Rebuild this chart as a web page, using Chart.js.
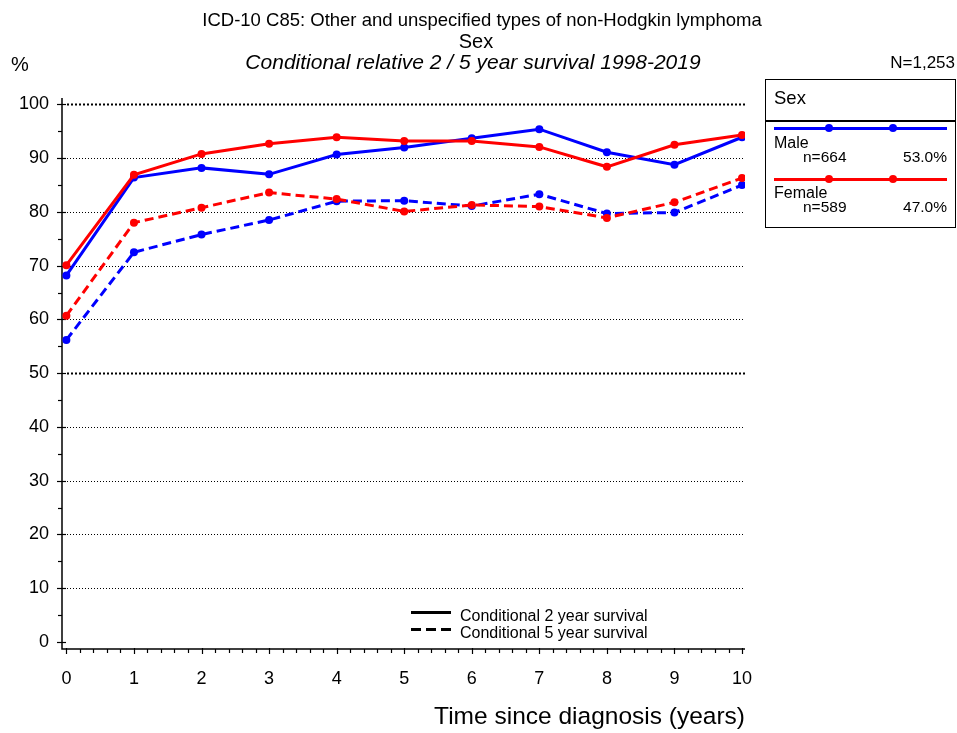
<!DOCTYPE html>
<html>
<head>
<meta charset="utf-8">
<script src="https://cdn.jsdelivr.net/npm/chart.js@4"></script>
<style>
  html, body { margin:0; padding:0; background:#fff; overflow:hidden; }
  #wrap { position:relative; width:957px; height:733px; font-family:'Liberation Sans', Arial, Helvetica, sans-serif; color:#000; }
  #c { position:absolute; left:0; top:0; }
  .t { position:absolute; white-space:nowrap; line-height:1; }
  .ctr { transform:translateX(-50%); }
  .rgt { transform:translateX(-100%); }
  #lbox { position:absolute; left:765px; top:79px; width:189px; height:147px; border:1.5px solid #000; box-sizing:content-box; }
  .hl { position:absolute; height:3px; }
  .dot { position:absolute; width:8px; height:8px; border-radius:50%; }
</style>
</head>
<body>
<div id="wrap">
  <canvas id="c" width="957" height="733"></canvas>

  <div class="t ctr" style="left:482px; top:10.5px; font-size:18.5px;">ICD-10 C85: Other and unspecified types of non-Hodgkin lymphoma</div>
  <div class="t ctr" style="left:476px; top:30.5px; font-size:20px;">Sex</div>
  <div class="t ctr" style="left:473px; top:50.5px; font-size:21px; font-style:italic;">Conditional relative 2 / 5 year survival 1998-2019</div>
  <div class="t" style="left:11px; top:54px; font-size:20px;">%</div>
  <div class="t rgt" style="left:955px; top:54px; font-size:17px;">N=1,253</div>

  <!-- group legend box -->
  <div id="lbox"></div>
  <div style="position:absolute; left:765px; top:120px; width:191px; height:1.5px; background:#000;"></div>
  <div class="t" style="left:774px; top:89px; font-size:18.5px;">Sex</div>

  <div class="hl" style="left:774px; top:126.5px; width:173px; background:#0000ff;"></div>
  <div class="dot" style="left:825px; top:124px; background:#0000ff;"></div>
  <div class="dot" style="left:889px; top:124px; background:#0000ff;"></div>
  <div class="t" style="left:774px; top:135px; font-size:16px;">Male</div>
  <div class="t" style="left:803px; top:149px; font-size:15.5px;">n=664</div>
  <div class="t rgt" style="left:947px; top:149px; font-size:15.5px;">53.0%</div>

  <div class="hl" style="left:774px; top:177.5px; width:173px; background:#ff0000;"></div>
  <div class="dot" style="left:825px; top:175px; background:#ff0000;"></div>
  <div class="dot" style="left:889px; top:175px; background:#ff0000;"></div>
  <div class="t" style="left:774px; top:185px; font-size:16px;">Female</div>
  <div class="t" style="left:803px; top:199px; font-size:15.5px;">n=589</div>
  <div class="t rgt" style="left:947px; top:199px; font-size:15.5px;">47.0%</div>

  <!-- line style legend -->
  <div class="hl" style="left:411px; top:610.5px; width:40px; background:#000;"></div>
  <div class="hl" style="left:411px; top:627.5px; width:40px; background:repeating-linear-gradient(to right,#000 0,#000 10px,transparent 10px,transparent 15px);"></div>
  <div class="t" style="left:460px; top:608px; font-size:16px;">Conditional 2 year survival</div>
  <div class="t" style="left:460px; top:625px; font-size:16px;">Conditional 5 year survival</div>
</div>

<script>
// ---- data ----
const years = [0, 1, 2, 3, 4, 5, 6, 7, 8, 9, 10];
const male2yr   = [68.2, 86.4, 88.2, 87.0, 90.7, 92.0, 93.7, 95.4, 91.1, 88.8, 93.9];
const female2yr = [70.1, 86.9, 90.8, 92.7, 93.9, 93.2, 93.2, 92.1, 88.4, 92.5, 94.3];
const male5yr   = [56.2, 72.5, 75.8, 78.5, 82.0, 82.1, 81.1, 83.3, 79.7, 79.9, 85.0];
const female5yr = [60.7, 78.0, 80.8, 83.6, 82.4, 80.1, 81.3, 81.0, 78.9, 81.8, 86.3];
const xTickValues = [0, 1, 2, 3, 4, 5, 6, 7, 8, 9, 10];
const yTickValues = [0, 10, 20, 30, 40, 50, 60, 70, 80, 90, 100];

const BLUE = '#0000ff', RED = '#ff0000';

function pts(vals) { return years.map((x, i) => ({ x: x, y: vals[i] })); }

function ds(label, vals, color, dashed) {
  return {
    label: label,
    data: pts(vals),
    borderColor: color,
    backgroundColor: color,
    borderWidth: 3,
    borderDash: dashed ? [9, 5] : [],
    pointRadius: 4,
    pointBorderWidth: 0,
    pointBackgroundColor: color,
    pointHoverRadius: 4,
    tension: 0,
    fill: false
  };
}

const axesPlugin = {
  id: 'sasAxes',
  beforeDatasetsDraw(chart) {
    const { ctx, chartArea: a, scales: { x, y } } = chart;
    ctx.save();
    ctx.strokeStyle = '#000';
    // dotted grid lines
    yTickValues.forEach(v => {
      if (v === 0) return;
      const py = Math.round(y.getPixelForValue(v)) + 0.5;
      const bold = (v === 100 || v === 50);
      ctx.lineWidth = bold ? 2 : 1;
      ctx.setLineDash(bold ? [2, 2] : [1, 2]);
      ctx.beginPath();
      ctx.moveTo(a.left + 5, py);
      ctx.lineTo(a.right, py);
      ctx.stroke();
    });
    ctx.setLineDash([]);
    // axis lines
    ctx.lineWidth = 1.5;
    ctx.beginPath();
    ctx.moveTo(a.left, a.top);
    ctx.lineTo(a.left, a.bottom);
    ctx.lineTo(a.right, a.bottom);
    ctx.stroke();
    // y ticks
    ctx.lineWidth = 1.2;
    for (let v = 0; v <= 100; v += 5) {
      const py = Math.round(y.getPixelForValue(v)) + 0.5;
      const major = v % 10 === 0;
      ctx.beginPath();
      ctx.moveTo(a.left - (major ? 5 : 4), py);
      ctx.lineTo(a.left + (major ? 4 : 0), py);
      ctx.stroke();
    }
    // x ticks
    for (let k = 0; k <= 50; k++) {
      const v = k / 5;
      const px = Math.round(x.getPixelForValue(v)) + 0.5;
      const major = k % 5 === 0;
      ctx.beginPath();
      ctx.moveTo(px, a.bottom - (major ? 1 : 0));
      ctx.lineTo(px, a.bottom + (major ? 5 : 4));
      ctx.stroke();
    }
    ctx.restore();
  }
};

Chart.defaults.font.family = "'Liberation Sans', Arial, Helvetica, sans-serif";
Chart.defaults.color = '#000';

new Chart(document.getElementById('c'), {
  type: 'line',
  data: {
    datasets: [
      ds('Female, conditional 2 year', female2yr, RED, false),
      ds('Female, conditional 5 year', female5yr, RED, true),
      ds('Male, conditional 2 year', male2yr, BLUE, false),
      ds('Male, conditional 5 year', male5yr, BLUE, true)
    ]
  },
  options: {
    responsive: false,
    animation: false,
    events: [],
    layout: { padding: { left: 0, right: 212, top: 98, bottom: 0 } },
    plugins: { legend: { display: false }, tooltip: { enabled: false }, title: { display: false } },
    scales: {
      x: {
        type: 'linear',
        min: -0.065,
        max: 10.044,
        grid: { display: false, drawTicks: false },
        border: { display: false },
        afterBuildTicks: s => { s.ticks = xTickValues.map(v => ({ value: v })); },
        afterFit: s => { s.height = 84; },
        ticks: { font: { size: 18 }, padding: 19, maxRotation: 0, autoSkip: false, callback: v => String(v) },
        title: { display: true, text: 'Time since diagnosis (years)', align: 'end', font: { size: 24.5 }, padding: { top: 0, bottom: 1 } }
      },
      y: {
        type: 'linear',
        min: -1.3,
        max: 101.2,
        grid: { display: false, drawTicks: false },
        border: { display: false },
        afterBuildTicks: s => { s.ticks = yTickValues.map(v => ({ value: v })); },
        afterFit: s => { s.width = 62; },
        ticks: { font: { size: 18 }, padding: 13, autoSkip: false, callback: v => String(v) }
      }
    }
  },
  plugins: [axesPlugin]
});
</script>
</body>
</html>
